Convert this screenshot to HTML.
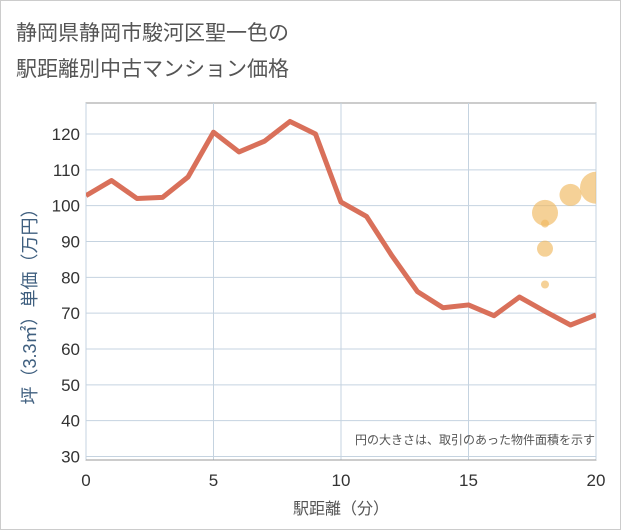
<!DOCTYPE html>
<html><head><meta charset="utf-8"><style>
body{margin:0;background:#fff;}
svg{display:block;font-family:"Liberation Sans","Noto Sans CJK JP",sans-serif;}
</style></head><body>
<svg width="621" height="530">
<rect x="0.5" y="0.5" width="620" height="529" fill="#fff" stroke="#ccc"/>
<text x="16" y="40" font-size="21" fill="#555">静岡県静岡市駿河区聖一色の</text>
<text x="16" y="76" font-size="21" fill="#555">駅距離別中古マンション価格</text>
<g id="grid"></g>
<g id="marks"></g>
<g id="axes"></g>
<text x="595" y="444" font-size="12" fill="#555" text-anchor="end">円の大きさは、取引のあった物件面積を示す</text>
<text x="341" y="514" font-size="16" fill="#555" text-anchor="middle">駅距離（分）</text>
<text transform="translate(36,302) rotate(-90)" font-size="18" fill="#3f5f7f" text-anchor="middle">坪（3.3㎡）単価（万円）</text>
</svg>
<script>
const lineX=[0,1,2,3,4,5,6,7,8,9,10,11,12,13,14,15,16,17,18,19,20];
const lineY=[102.8,107,102,102.3,108,120.5,115,118,123.5,120,101,97,86,76,71.5,72.3,69.3,74.5,70.5,66.7,69.5];
const bubX=[18,18,18,18,19,20];
const bubY=[98,95,88,78,103,105];
const bubR=[13,4,8,4,11,16];
const xTicks=[0,5,10,15,20];
const yTicks=[30,40,50,60,70,80,90,100,110,120];
const L=86,R=596,T=103,B=460;
const sx=v=>L+(v-0)/20*(R-L);
const sy=v=>456.5-(v-30)/90*(456.5-134);
const NS="http://www.w3.org/2000/svg";
function mk(p,t,a){const e=document.createElementNS(NS,t);for(const k in a)e.setAttribute(k,a[k]);p.appendChild(e);return e;}
const g=document.getElementById('grid'),m=document.getElementById('marks'),ax=document.getElementById('axes');
mk(g,'rect',{x:L,y:T,width:R-L,height:B-T,fill:'#fff',stroke:'#999','stroke-width':1});
yTicks.forEach(v=>{const l=mk(g,'line',{x1:L,x2:R,y1:sy(v),y2:sy(v),stroke:'#c5d3e0'});


const t=mk(ax,'text',{x:L-6,y:sy(v)+6,'font-size':17,fill:'#333','text-anchor':'end'});t.textContent=v;

});
xTicks.forEach(v=>{const l=mk(g,'line',{x1:sx(v),x2:sx(v),y1:T,y2:B,stroke:'#c5d3e0'});


const t=mk(ax,'text',{x:sx(v),y:B+26,'font-size':17,fill:'#333','text-anchor':'middle'});t.textContent=v;

});
mk(g,'line',{x1:L,x2:R,y1:B,y2:B,stroke:'#999'});
const cp=mk(m,'clipPath',{id:'cp'});mk(cp,'rect',{x:L,y:T,width:R-L,height:B-T});
const pts=lineX.map((x,i)=>sx(x)+','+sy(lineY[i])).join(' ');
const pl=mk(m,'polyline',{points:pts,fill:'none',stroke:'#d9705a','stroke-width':5,'stroke-linejoin':'round','clip-path':'url(#cp)'});


bubX.forEach((x,i)=>{const c=mk(m,'circle',{cx:sx(x),cy:sy(bubY[i]),r:bubR[i],fill:'#f0b860','fill-opacity':0.65,'clip-path':'url(#cp)'});

});
</script>
</body></html>
